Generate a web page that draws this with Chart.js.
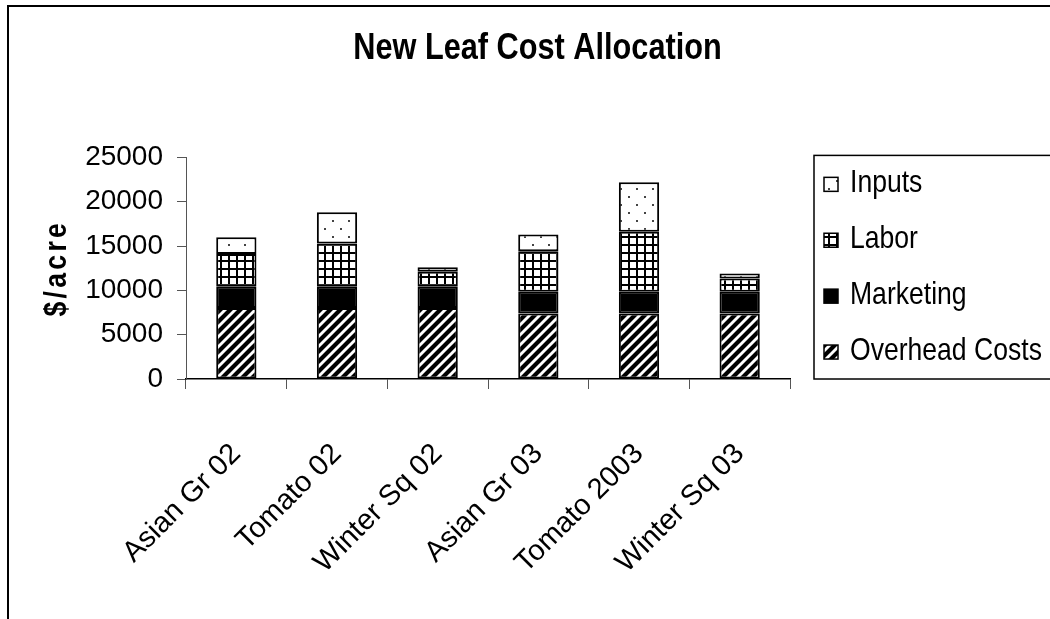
<!DOCTYPE html>
<html>
<head>
<meta charset="utf-8">
<script src="https://cdn.jsdelivr.net/npm/chart.js@4.4.1/dist/chart.umd.min.js"></script>
<style>
  html, body { margin: 0; padding: 0; background: #fff; overflow: hidden; }
  #wrap { width: 1050px; height: 619px; overflow: hidden; }
  #box { width: 1075px; height: 619px; position: relative; }
</style>
</head>
<body>
<div id="wrap"><div id="box"><canvas id="myChart"></canvas></div></div>
<script>
const categories = ["Asian Gr 02", "Tomato 02", "Winter Sq 02", "Asian Gr 03", "Tomato 2003", "Winter Sq 03"];
const overhead = [8000, 8000, 8000, 7400, 7400, 7400];
const marketing = [2400, 2400, 2400, 2450, 2450, 2450];
const labor = [3700, 4900, 1700, 4550, 6750, 1500];
const inputs = [1900, 3500, 500, 1900, 5600, 550];
const yTicks = [0, 5000, 10000, 15000, 20000, 25000];

const sans = '"Liberation Sans", Arial, sans-serif';
const squeeze = 0.83; // the original uses a narrow face for title / legend

// hatch fills like the old excel ones
function tile(size, draw) {
    const c = document.createElement("canvas");
    c.width = size;
    c.height = size;
    const g = c.getContext("2d");
    g.fillStyle = "#fff";
    g.fillRect(0, 0, size, size);
    draw(g);
    return g.createPattern(c, "repeat");
}

const stripes = tile(10, function (g) {
    g.strokeStyle = "#000";
    g.lineWidth = 4.2;
    g.beginPath();
    g.moveTo(-2, 12); g.lineTo(12, -2);
    g.moveTo(-3, 3); g.lineTo(3, -3);
    g.moveTo(7, 13); g.lineTo(13, 7);
    g.stroke();
});
const grid = tile(8, function (g) {
    g.fillStyle = "#000";
    g.fillRect(4, 0, 2, 8);
    g.fillRect(0, 4, 8, 2);
});
const dots = tile(16, function (g) {
    g.fillStyle = "#444";
    g.fillRect(4, 4, 2, 2);
    g.fillRect(12, 12, 2, 2);
});

const frame = {
    id: "frame",
    beforeDraw(chart) {
        const ctx = chart.ctx;
        ctx.save();
        ctx.strokeStyle = "#000";
        ctx.lineWidth = 2;
        ctx.strokeRect(8, 6, chart.width + 20, chart.height + 20);
        ctx.restore();
    },
    afterLayout(chart) {
        const s = chart.scales.y;
        if (s && !s._patched) {
            const orig = s.drawTitle;
            s.drawTitle = function () {
                const ctx = this.ctx;
                const cy = (this.top + this.bottom) / 2;
                ctx.save();
                ctx.translate(0, cy);
                ctx.scale(1, squeeze);
                ctx.translate(0, -cy);
                ctx.letterSpacing = "4px";
                orig.apply(this, arguments);
                ctx.restore();
            };
            s._patched = true;
        }
        const t = chart.titleBlock;
        if (t && !t._patched) {
            const draw = t.draw;
            t.draw = function () {
                const ctx = this.ctx;
                const cx = (this.left + this.right) / 2;
                ctx.save();
                ctx.translate(cx, 0);
                ctx.scale(squeeze, 1);
                ctx.translate(-cx, 0);
                draw.apply(this, arguments);
                ctx.restore();
            };
            t._patched = true;
        }
    }
};

const boxLegend = {
    id: "boxLegend",
    afterDraw(chart) {
        const ctx = chart.ctx;
        const a = chart.chartArea;
        const left = a.right + 24, top = a.top - 2, bottom = a.bottom;
        const ds = chart.data.datasets.slice().reverse();
        const step = (bottom - top) / ds.length;
        ctx.save();
        ctx.strokeStyle = "#000";
        ctx.lineWidth = 1.5;
        ctx.strokeRect(left, top, chart.width, bottom - top);
        ctx.font = "32px " + sans;
        ctx.textBaseline = "middle";
        ds.forEach(function (d, i) {
            const y = top + step * (i + 0.5);
            ctx.fillStyle = d.backgroundColor;
            ctx.fillRect(left + 10, y - 6, 14, 14);
            ctx.strokeRect(left + 10, y - 6, 14, 14);
            ctx.save();
            ctx.translate(left + 36, y);
            ctx.scale(squeeze, 1);
            ctx.fillStyle = "#000";
            ctx.fillText(d.label, 0, 0);
            ctx.restore();
        });
        ctx.restore();
    }
};

function bars(label, data, fill) {
    return {
        label: label,
        data: data,
        backgroundColor: fill,
        borderColor: "#000",
        borderWidth: 2,
        borderSkipped: false,
        categoryPercentage: 1,
        barPercentage: 0.4
    };
}

Chart.defaults.font.family = sans;
Chart.defaults.color = "#000";

new Chart(document.getElementById("myChart"), {
    type: "bar",
    data: {
        labels: categories,
        datasets: [
            bars("Overhead Costs", overhead, stripes),
            bars("Marketing", marketing, "#000"),
            bars("Labor", labor, grid),
            bars("Inputs", inputs, dots)
        ]
    },
    options: {
        responsive: true,
        maintainAspectRatio: false,
        animation: false,
        plugins: {
            legend: { display: false },
            tooltip: { enabled: false },
            title: {
                display: true,
                text: "New Leaf Cost Allocation",
                color: "#000",
                font: { size: 37, weight: "bold" },
                padding: { top: 27, bottom: 86 }
            }
        },
        scales: {
            x: {
                stacked: true,
                grid: { drawOnChartArea: false, tickLength: 10, color: "#555", lineWidth: 1 },
                border: { color: "#000", width: 1.5 },
                ticks: {
                    minRotation: 45,
                    maxRotation: 45,
                    padding: 48,
                    font: { size: 29 }
                },
                afterFit: function (s) { s.height = 240; }
            },
            y: {
                stacked: true,
                min: 0,
                max: 25000,
                afterBuildTicks: function (s) { s.ticks = yTicks.map(function (v) { return { value: v }; }); },
                grid: { drawOnChartArea: false, tickLength: 9, color: "#555" },
                border: { color: "#555", width: 1 },
                ticks: {
                    padding: 14,
                    font: { size: 28 },
                    callback: function (v) { return String(v); }
                },
                title: {
                    display: true,
                    text: "$/acre",
                    font: { size: 32, weight: "bold" },
                    padding: { top: 38 }
                },
                afterFit: function (s) { s.width = 186; }
            },
            // empty right axis only reserves the room the legend box sits in
            side: {
                axis: "y",
                position: "right",
                grid: { display: false },
                border: { display: false },
                ticks: { display: false },
                afterFit: function (s) { s.width = 285; }
            }
        }
    },
    plugins: [frame, boxLegend]
});
</script>
</body>
</html>
